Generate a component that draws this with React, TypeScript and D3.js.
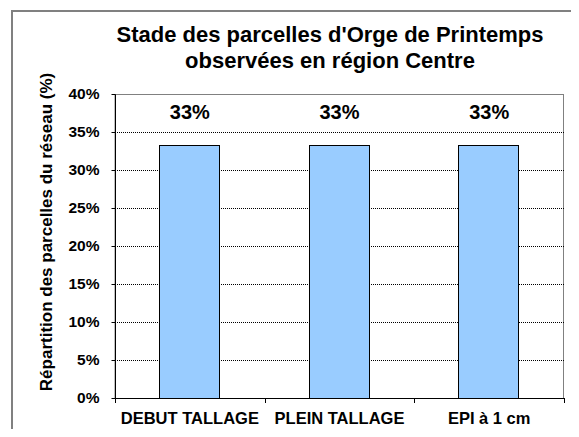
import React, { useRef, useEffect } from "react";
import * as d3 from "d3";

const categories = ["DEBUT TALLAGE", "PLEIN TALLAGE", "EPI à 1 cm"];
const values = [0.3333, 0.3333, 0.3333];
const valueLabels = ["33%", "33%", "33%"];
const yTicks = [0, 0.05, 0.1, 0.15, 0.2, 0.25, 0.3, 0.35, 0.4];

const W = 579;
const H = 437;

const App = () => {
  const svgRef = useRef<SVGSVGElement>(null);

  useEffect(() => {
    const svg = d3.select(svgRef.current);
    svg.selectAll("*").remove();

    const font = "'Liberation Sans', Arial, sans-serif";
    const margin = { top: 94, left: 115, right: 15, bottom: 39 };
    const innerW = W - margin.left - margin.right;
    const innerH = H - margin.top - margin.bottom;

    // outer frame (runs off the right and bottom edges)
    svg
      .append("path")
      .attr("d", `M12,${H + 10}V11H${W + 10}`)
      .attr("fill", "none")
      .attr("stroke", "#808080")
      .attr("stroke-width", 2);

    // title
    const title = svg
      .append("text")
      .attr("text-anchor", "middle")
      .attr("font-family", font)
      .attr("font-weight", "bold")
      .attr("font-size", 22)
      .attr("fill", "#000");
    title.append("tspan").attr("x", 330).attr("y", 42).text("Stade des parcelles d'Orge de Printemps");
    title.append("tspan").attr("x", 330).attr("y", 68).text("observées en région Centre");

    const chart = svg
      .append("g")
      .attr("transform", `translate(${margin.left}, ${margin.top})`);

    const x = d3.scaleBand().domain(categories).range([0, innerW]).paddingInner(0).paddingOuter(0);
    const y = d3.scaleLinear().domain([0, 0.4]).range([innerH, 0]);

    // plot area border
    chart
      .append("rect")
      .attr("x", 0)
      .attr("y", 0.5)
      .attr("width", innerW - 0.5)
      .attr("height", innerH)
      .attr("fill", "none")
      .attr("stroke", "#808080");

    // dotted grid
    chart
      .append("g")
      .selectAll("line")
      .data(yTicks.slice(1, -1))
      .enter()
      .append("line")
      .attr("x1", 0)
      .attr("x2", innerW)
      .attr("y1", (d) => Math.round(y(d)) + 0.5)
      .attr("y2", (d) => Math.round(y(d)) + 0.5)
      .attr("stroke", "#000")
      .attr("stroke-dasharray", "1,1");

    // bars
    const barW = 60;
    chart
      .selectAll("rect.bar")
      .data(values)
      .enter()
      .append("rect")
      .attr("class", "bar")
      .attr("x", (_, i) => Math.round(x(categories[i])! + x.bandwidth() / 2 - barW / 2) - 0.5)
      .attr("y", (d) => Math.round(y(d)) + 0.5)
      .attr("width", barW)
      .attr("height", (d) => innerH - Math.round(y(d)))
      .attr("fill", "#99CCFF")
      .attr("stroke", "#000")
      .attr("stroke-width", 1);

    // value labels
    chart
      .selectAll("text.val")
      .data(values)
      .enter()
      .append("text")
      .attr("class", "val")
      .attr("x", (_, i) => x(categories[i])! + x.bandwidth() / 2)
      .attr("y", 25)
      .attr("text-anchor", "middle")
      .attr("font-family", font)
      .attr("font-weight", "bold")
      .attr("font-size", 20)
      .text((_, i) => valueLabels[i]);

    // y axis
    const yAxis = chart
      .append("g")
      .attr("transform", "translate(0.5,0)")
      .call(
        d3
          .axisLeft(y)
          .tickValues(yTicks)
          .tickSize(4)
          .tickPadding(12)
          .tickFormat((d) => d3.format(".0%")(d as number))
      );
    yAxis.select(".domain").attr("stroke", "#000").attr("d", `M0,0.5V${innerH}`);
    yAxis.selectAll("line").attr("stroke", "#000");
    yAxis
      .selectAll("text")
      .attr("font-family", font)
      .attr("font-weight", "bold")
      .attr("font-size", 15.5)
      .attr("fill", "#000");

    // x axis
    const xAxis = chart
      .append("g")
      .attr("transform", `translate(0,${innerH + 0.5})`)
      .call(d3.axisBottom(x).tickSize(0).tickPadding(0));
    xAxis.select(".domain").attr("stroke", "#000").attr("d", `M0,0H${innerW}`);
    xAxis
      .selectAll("text")
      .attr("dy", null)
      .attr("y", 25)
      .attr("font-family", font)
      .attr("font-weight", "bold")
      .attr("font-size", 16.5)
      .attr("fill", "#000");
    // category separators
    chart
      .append("g")
      .selectAll("line")
      .data([0, 1, 2, 3])
      .enter()
      .append("line")
      .attr("x1", (d) => Math.round(d * x.bandwidth()) + 0.5)
      .attr("x2", (d) => Math.round(d * x.bandwidth()) + 0.5)
      .attr("y1", innerH)
      .attr("y2", innerH + 5)
      .attr("stroke", "#000");

    // y label
    svg
      .append("text")
      .attr("transform", `translate(52, 232) rotate(-90)`)
      .attr("text-anchor", "middle")
      .attr("font-family", font)
      .attr("font-weight", "bold")
      .attr("font-size", 17)
      .text("Répartition des parcelles du réseau (%)");
  }, []);

  return (
    <div style={{ margin: -8 }}>
      <svg ref={svgRef} width={W} height={H} style={{ display: "block" }}></svg>
    </div>
  );
};

export default App;
